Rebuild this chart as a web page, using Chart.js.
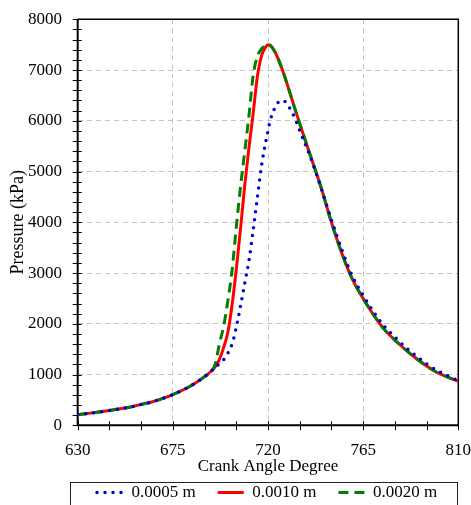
<!DOCTYPE html>
<html><head><meta charset="utf-8">
<script src="https://cdn.jsdelivr.net/npm/chart.js@4.4.0/dist/chart.umd.min.js"></script>
<style>
html,body{margin:0;padding:0;overflow:hidden;background:#fff;}
#wrap{position:relative;width:471px;height:526px;}
</style>
</head><body>
<div id="wrap"><canvas id="c"></canvas></div>
<script>
// Crank angle (degrees)
const angles = [630,635,640,645,650,655,660,665,670,675,680,685,690,693,695,697,699,701,703,705,707,709,711,713,715,717,719,720,721,723,725,727,730,733,736,740,745,750,755,760,765,770,775,780,785,790,795,800,805,810];
// Pressure (kPa) for each gap size
const p0005 = [210,235,262,292,325,362,410,460,525,606,700,815,960,1060,1150,1210,1290,1420,1600,1930,2350,2800,3250,3850,4500,5130,5600,5800,6000,6230,6370,6400,6270,6020,5700,5290,4690,4050,3450,2930,2560,2230,1950,1740,1540,1370,1210,1080,975,880];
const p0010 = [210,235,262,292,325,362,410,460,525,606,700,815,960,1060,1150,1300,1530,1830,2370,3070,3870,4730,5470,6150,6880,7290,7460,7500,7490,7380,7200,6980,6600,6200,5820,5320,4700,4000,3380,2870,2500,2170,1890,1680,1490,1320,1170,1040,950,870];
const p0020 = [210,235,262,292,325,362,410,460,525,606,700,815,960,1060,1200,1600,1950,2450,3050,3900,4700,5400,6100,6900,7270,7420,7490,7500,7490,7380,7200,6980,6600,6200,5820,5320,4700,4000,3380,2870,2500,2170,1890,1680,1490,1320,1170,1040,950,870];
const seriesLabels = ['0.0005 m','0.0010 m','0.0020 m'];
const xTickStep = 45, xMinorStep = 15, xMin = 630, xMax = 810;
const yTickStep = 1000, yMinorStep = 200, yMin = 0, yMax = 8000;

const toXY = arr => angles.map((a,i)=>({x:a,y:arr[i]}));
Chart.defaults.font.family = '"Liberation Serif","Times New Roman",serif';
Chart.defaults.color = '#000';

const gridColor = ctx => {
  const v = ctx.tick ? ctx.tick.value : null;
  const s = ctx.scale;
  return (v === s.min || v === s.max) ? 'rgba(0,0,0,0)' : '#c4c4c4';
};

const framePlugin = {
  id: 'frame',
  afterLayout(chart){
    const lg = chart.legend;
    if (!lg || !lg.lineWidths) return;
    const pad = lg.options.labels.padding;
    const curStart = (lg.left + pad + lg.right - lg.lineWidths[0]) / 2;
    const dx = 97 - curStart;
    lg.left += dx; lg.right += dx;
    const dy = 462 - lg.top;
    lg.top += dy; lg.bottom += dy;
  },
  beforeDatasetsDraw(chart){
    const {ctx, chartArea:a, scales:{x, y}} = chart;
    ctx.save();
    ctx.strokeStyle = '#000';
    ctx.lineWidth = 1.5;
    ctx.beginPath();
    ctx.moveTo(a.left, a.top); ctx.lineTo(a.right, a.top); ctx.lineTo(a.right, a.bottom);
    ctx.stroke();
    ctx.lineWidth = 2;
    ctx.beginPath();
    ctx.moveTo(a.left, a.top); ctx.lineTo(a.left, a.bottom); ctx.lineTo(a.right, a.bottom);
    ctx.stroke();
    ctx.lineWidth = 1;
    ctx.beginPath();
    for (let v = xMin; v <= xMax; v += xMinorStep) {
      const px = Math.round(x.getPixelForValue(v)) + 0.5;
      ctx.moveTo(px, a.bottom + 5); ctx.lineTo(px, a.bottom - 4);
    }
    for (let v = yMin; v <= yMax; v += yMinorStep) {
      const py = Math.round(y.getPixelForValue(v)) + 0.5;
      ctx.moveTo(a.left - 5, py); ctx.lineTo(a.left + 4, py);
    }
    ctx.stroke();
    ctx.restore();
  },
  afterDraw(chart){
    const {ctx, chartArea:a} = chart;
    ctx.save();
    ctx.strokeStyle = '#222';
    ctx.lineWidth = 1;
    ctx.strokeRect(Math.round(a.left - 8) + 0.5, 482.5, Math.round(a.right - a.left + 6), 60);
    ctx.restore();
  }
};

new Chart(document.getElementById('c'), {
  type: 'line',
  data: {
    datasets: [
      {label: seriesLabels[0], data: toXY(p0005), borderColor: '#0000d8', backgroundColor: '#0000d8',
       borderWidth: 3.5, borderDash: [0, 8], borderCapStyle: 'round', pointRadius: 0, order: 0,
       cubicInterpolationMode: 'monotone', fill: false},
      {label: seriesLabels[1], data: toXY(p0010), borderColor: '#ff0000', backgroundColor: '#ff0000',
       borderWidth: 3, pointRadius: 0, order: 2, cubicInterpolationMode: 'monotone', fill: false},
      {label: seriesLabels[2], data: toXY(p0020), borderColor: '#008000', backgroundColor: '#008000',
       borderWidth: 3, borderDash: [10, 6], pointRadius: 0, order: 1, cubicInterpolationMode: 'monotone', fill: false}
    ]
  },
  options: {
    responsive: true,
    maintainAspectRatio: false,
    animation: false,
    layout: {padding: {top: 19.3, right: 12.7, left: 0, bottom: 0}},
    plugins: {
      tooltip: {enabled: false},
      legend: {
        position: 'bottom',
        labels: {
          usePointStyle: true, pointStyle: 'line', pointStyleWidth: 26,
          font: {size: 17}, color: '#000', padding: 22,
          generateLabels: chart => chart.data.datasets.map((ds, i) => ({
            text: ds.label, datasetIndex: i, hidden: false,
            fillStyle: ds.borderColor, strokeStyle: ds.borderColor,
            lineWidth: ds.borderWidth, lineDash: ds.borderDash || [],
            lineCap: ds.borderCapStyle || 'butt', pointStyle: 'line', fontColor: '#000'
          }))
        }
      }
    },
    scales: {
      x: {
        type: 'linear', min: xMin, max: xMax,
        ticks: {stepSize: xTickStep, font: {size: 17}, color: '#000', padding: 15, maxRotation: 0, autoSkip: false,
                callback: v => String(v)},
        grid: {color: gridColor, lineWidth: 1, drawTicks: false},
        border: {display: false, dash: [5, 4]},
        title: {display: true, text: 'Crank Angle Degree', font: {size: 17}, color: '#000', padding: {top: 0, bottom: 0}},
        afterFit: s => { s.height = 51.7; s.paddingLeft = 0; s.paddingRight = 0; }
      },
      y: {
        min: yMin, max: yMax,
        ticks: {stepSize: yTickStep, font: {size: 17}, color: '#000', padding: 15.7, callback: v => String(v)},
        grid: {color: gridColor, lineWidth: 1, drawTicks: false},
        border: {display: false, dash: [5, 4]},
        title: {display: true, text: 'Pressure (kPa)', font: {size: 18}, color: '#000', padding: {top: 7, bottom: 0}},
        afterFit: s => { s.width = 77.7; s.paddingTop = 0; s.paddingBottom = 0; }
      }
    }
  },
  plugins: [framePlugin]
});
</script>
</body></html>
